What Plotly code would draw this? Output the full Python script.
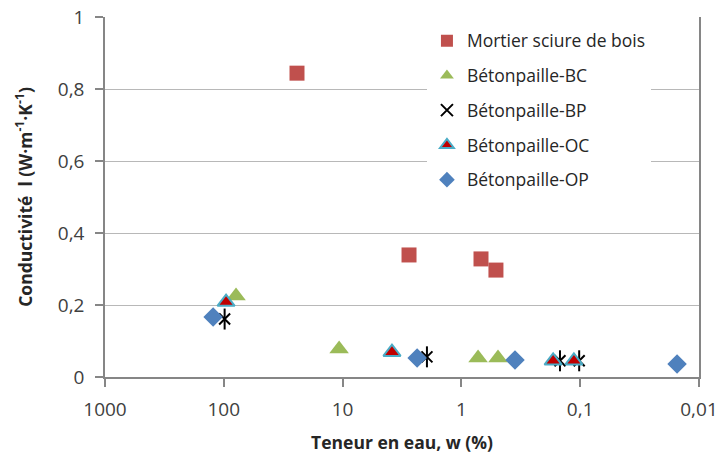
import plotly.graph_objects as go

# ---- data ----
mortier_w = [24.2, 2.76, 0.684, 0.512]
mortier_k = [0.844, 0.339, 0.328, 0.297]

bc_w = [78.9, 10.7, 0.724, 0.492]
bc_k = [0.225, 0.078, 0.053, 0.053]

bp_w = [98.4, 1.95, 0.148, 0.102]
bp_k = [0.161, 0.056, 0.045, 0.045]

oc_w = [95.7, 3.84, 0.169, 0.113]
oc_k = [0.208, 0.069, 0.045, 0.045]

op_w = [123, 2.36, 0.354, 0.0153]
op_k = [0.167, 0.053, 0.047, 0.036]

x_tickvals = [1000, 100, 10, 1, 0.1, 0.01]
x_ticktext = ["1000", "100", "10", "1", "0,1", "0,01"]
y_tickvals = [0, 0.2, 0.4, 0.6, 0.8, 1]
y_ticktext = ["0", "0,2", "0,4", "0,6", "0,8", "1"]

FONT = "Open Sans"
fig = go.Figure()

fig.add_trace(go.Scatter(x=mortier_w, y=mortier_k, mode="markers", name="Mortier sciure de bois",
                         legendgroup="a",
                         marker=dict(symbol="square", size=15, color="#C0504D")))
fig.add_trace(go.Scatter(x=bc_w, y=bc_k, mode="markers", name="Bétonpaille-BC",
                         legendgroup="b",
                         marker=dict(symbol="triangle-up", size=17, color="#9BBB59")))
fig.add_trace(go.Scatter(x=bp_w, y=bp_k, mode="markers", name="Bétonpaille-BP",
                         legendgroup="c",
                         marker=dict(symbol="x-thin-open", size=11, color="black",
                                     line=dict(width=2, color="black"))))
fig.add_trace(go.Scatter(x=bp_w, y=bp_k, mode="markers", name="Bétonpaille-BP",
                         legendgroup="c", showlegend=False,
                         marker=dict(symbol="line-ns-open", size=15, color="black",
                                     line=dict(width=2, color="black"))))
fig.add_trace(go.Scatter(x=oc_w, y=oc_k, mode="markers", name="Bétonpaille-OC",
                         legendgroup="d",
                         marker=dict(symbol="triangle-up", size=15, color="#C00000",
                                     line=dict(width=2, color="#4BACC6"))))
fig.add_trace(go.Scatter(x=op_w, y=op_k, mode="markers", name="Bétonpaille-OP",
                         legendgroup="e",
                         marker=dict(symbol="diamond", size=15, color="#4F81BD")))

fig.update_layout(
    width=722, height=454,
    margin=dict(l=105, r=23, t=17, b=77),
    paper_bgcolor="white", plot_bgcolor="white",
    font=dict(family=FONT, size=19, color="#404040"),
    legend=dict(x=0.542, y=0.984, xanchor="left", yanchor="top",
                bgcolor="white", tracegroupgap=9, itemsizing="constant",
                font=dict(family=FONT, size=17.5, color="#262626")),
    xaxis=dict(type="log", range=[3, -2], tickvals=x_tickvals, ticktext=x_ticktext,
               showgrid=False, showline=True, linecolor="#868686", linewidth=1.5,
               ticks="outside", ticklen=8, tickcolor="#868686", tickwidth=1.5,
               ticklabelstandoff=6, automargin=False,
               zeroline=False,
               title=dict(text="<b>Teneur en eau, w (%)</b>", standoff=16,
                          font=dict(family=FONT, size=17.5, color="#262626"))),
    yaxis=dict(range=[0, 1], tickvals=y_tickvals, ticktext=y_ticktext,
               showgrid=True, gridcolor="#b8b8b8", gridwidth=1,
               showline=True, linecolor="#868686", linewidth=1.5, mirror=True,
               ticks="outside", ticklen=8, tickcolor="#868686", tickwidth=1.5,
               ticklabelstandoff=7, automargin=False,
               zeroline=False,
               title=dict(text="<b>Conductivité  l (W·m<sup>-1</sup>·K<sup>-1</sup>)</b>", standoff=21,
                          font=dict(family=FONT, size=17.5, color="#262626"))),
)

fig.write_html("out.html", config={"displayModeBar": False},
               post_script="document.body.style.margin='0';")
